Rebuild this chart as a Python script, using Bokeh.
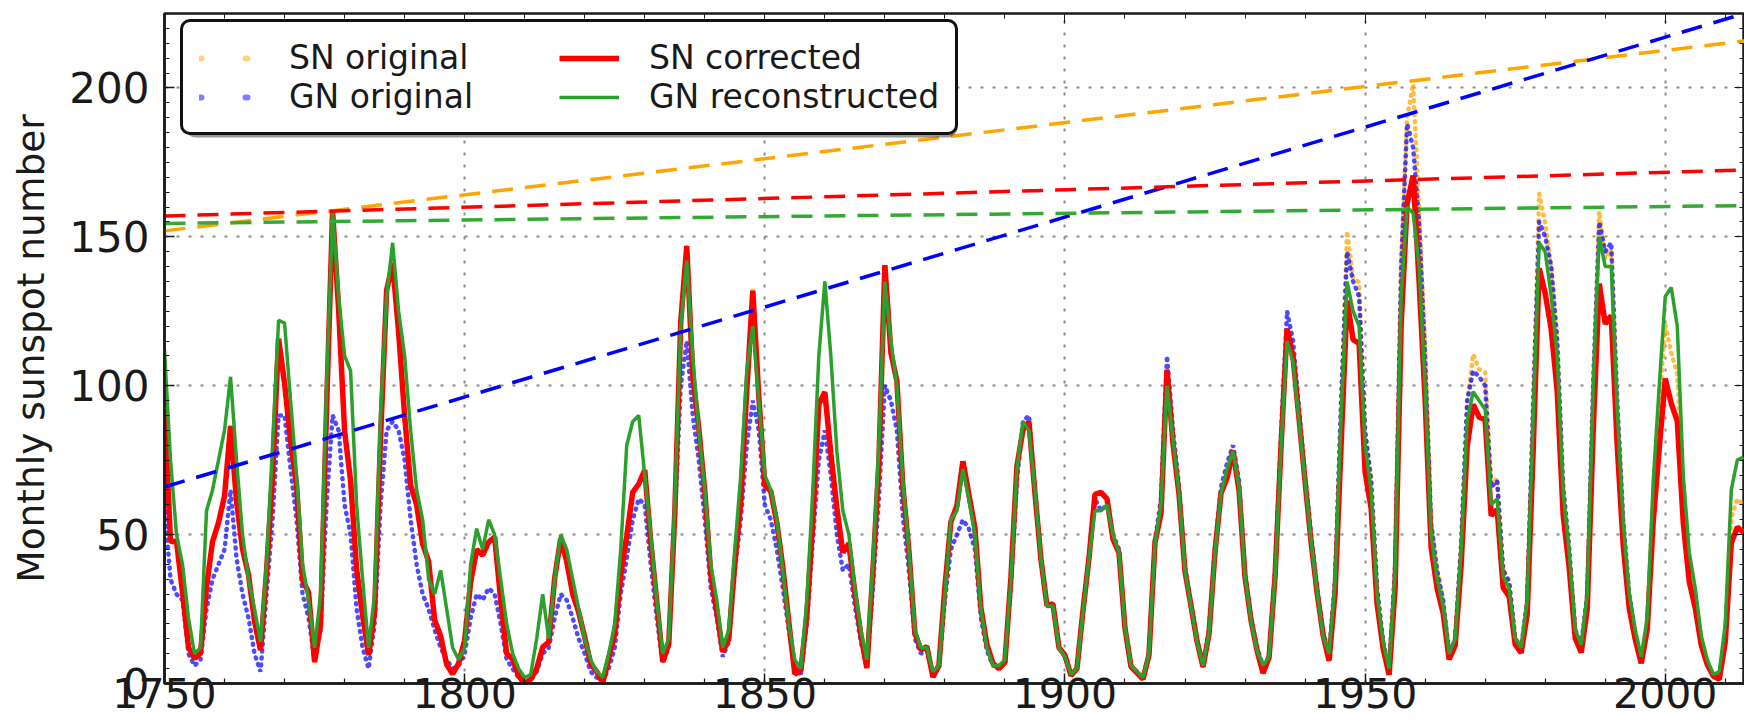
from bokeh.plotting import figure
from bokeh.models import (Range1d, LinearAxis, Legend, LegendItem, SingleIntervalTicker,
                          CustomJSTickFormatter, BoxAnnotation)
from bokeh.embed import file_html
from bokeh.resources import INLINE

# ---------------- data ----------------
years = list(range(1750, 2014))
years_gn_original = list(range(1750, 1996))

sn_original = [
    92, 47.7, 47.8, 30.7, 12.2, 8.4, 10.2, 32.4, 47.6, 54.0,          # 1750
    62.9, 86.5, 61.2, 45.1, 36.4, 20.9, 11.2, 37.8, 69.8, 115.8,      # 1760
    100.8, 81.6, 66.5, 34.8, 30.6, 7.2, 19.8, 92.5, 158.5, 125.9,     # 1770
    84.8, 68.1, 38.5, 22.8, 9.5, 24.1, 82.9, 132.0, 141.2, 118.1,     # 1780
    89.9, 66.6, 60.0, 46.9, 41.0, 21.3, 16.0, 6.4, 3.2, 6.8,          # 1790
    14.5, 34.0, 45.0, 43.1, 47.5, 49.2, 28.1, 10.1, 8.1, 2.5,         # 1800
    0.0, 1.4, 5.0, 12.2, 13.9, 35.4, 48.7, 41.0, 30.1, 23.9,          # 1810
    15.6, 6.6, 4.0, 0.1, 8.5, 16.6, 36.3, 49.6, 64.2, 67.0,           # 1820
    71.7, 47.8, 27.5, 7.3, 13.2, 56.9, 121.5, 146.9, 103.2, 85.7,     # 1830
    64.6, 36.7, 24.2, 10.6, 15.0, 40.1, 61.5, 98.5, 131.9, 96.3,      # 1840
    66.6, 64.5, 54.1, 39.0, 20.6, 3.2, 4.3, 22.7, 54.8, 93.8,         # 1850
    97.9, 77.2, 59.1, 44.0, 47.0, 30.5, 16.3, 5.2, 37.6, 74.0,        # 1860
    140.5, 111.2, 101.6, 66.2, 44.7, 17.0, 11.3, 12.4, 2.2, 6.0,      # 1870
    32.3, 54.3, 59.7, 74.6, 63.5, 52.2, 25.4, 13.1, 6.8, 5.0,         # 1880
    7.1, 35.6, 73.0, 85.1, 87.9, 64.0, 41.8, 26.2, 26.7, 12.1,        # 1890
    9.5, 2.7, 5.0, 24.4, 42.0, 63.5, 64.2, 62.0, 48.5, 43.9,          # 1900
    18.6, 5.7, 3.6, 1.5, 9.6, 47.4, 57.1, 105.4, 80.6, 63.6,          # 1910
    37.6, 26.1, 14.2, 5.6, 16.7, 44.3, 63.9, 69.0, 78.1, 64.9,        # 1920
    35.7, 21.2, 11.1, 3.5, 8.7, 36.1, 79.7, 119.2, 109.6, 88.8,       # 1930
    67.8, 47.5, 30.6, 16.3, 7.7, 33.2, 92.6, 151.8, 136.3, 134.7,     # 1940
    83.9, 69.4, 31.5, 13.9, 3.4, 38.0, 141.7, 190.2, 201.3, 159.0,    # 1950
    112.3, 53.9, 37.6, 27.9, 9.6, 15.1, 47.0, 93.8, 110.6, 105.5,     # 1960
    104.5, 66.6, 68.9, 38.0, 34.5, 15.5, 12.2, 27.5, 92.5, 164.5,     # 1970
    154.6, 140.4, 115.9, 66.6, 45.9, 17.9, 12.3, 29.4, 100.2, 158.5,  # 1980
    142.6, 145.7, 94.3, 54.6, 29.9, 17.5, 8.0, 21.5, 64.3, 93.3,      # 1990
    120.8, 111.0, 104.0, 63.7, 40.4, 29.8, 15.2, 7.5, 2.9, 1.7,       # 2000
    16.5, 55.7, 62.0, 60.0,                                           # 2010
]

gn_original = [
    60, 35, 30, 28, 10, 6, 8, 25, 35, 40,            # 1750
    45, 65, 42, 30, 22, 10, 4, 30, 55, 90,           # 1760
    90, 72, 55, 30, 22, 8, 18, 60, 90, 85,           # 1770
    60, 50, 25, 12, 5, 20, 60, 85, 88, 85,           # 1780
    75, 55, 40, 30, 25, 18, 12, 8, 5, 6,             # 1790
    10, 22, 30, 28, 32, 30, 20, 8, 5, 2,             # 1800
    0, 1, 4, 10, 12, 22, 30, 28, 22, 15,             # 1810
    10, 4, 2, 1, 5, 12, 30, 42, 55, 62,              # 1820
    60, 40, 22, 7, 12, 55, 100, 115, 90, 75,         # 1830
    55, 32, 22, 9, 14, 38, 55, 80, 95, 85,           # 1840
    60, 55, 45, 32, 18, 6, 3, 20, 48, 75,            # 1850
    85, 70, 50, 38, 40, 26, 14, 6, 32, 62,           # 1860
    100, 95, 85, 56, 38, 15, 10, 11, 3, 5,           # 1870
    28, 45, 50, 55, 52, 45, 22, 11, 6, 6,            # 1880
    7, 33, 68, 88, 90, 65, 42, 26, 26, 12,           # 1890
    9, 3, 5, 25, 43, 62, 58, 60, 50, 45,             # 1900
    19, 6, 4, 2, 10, 48, 62, 110, 85, 66,            # 1910
    39, 27, 14, 6, 18, 46, 66, 74, 80, 68,           # 1920
    37, 22, 12, 6, 9, 38, 84, 125, 115, 92,          # 1930
    70, 50, 32, 17, 10, 35, 95, 145, 135, 130,       # 1940
    85, 68, 32, 14, 5, 40, 140, 188, 180, 155,       # 1950
    110, 54, 38, 28, 10, 15, 47, 95, 105, 103,       # 1960
    100, 66, 68, 38, 34, 15, 12, 28, 95, 155,        # 1970
    150, 140, 115, 66, 45, 18, 13, 30, 102, 155,     # 1980
    145, 148, 95, 55, 30, 17,                        # 1990
]

sn_corrected = [
    92, 47.7, 47.8, 30.7, 12.2, 8.4, 10.2, 32.4, 47.6, 54.0,          # 1750
    62.9, 86.5, 61.2, 45.1, 36.4, 20.9, 11.2, 37.8, 69.8, 115.8,      # 1760
    100.8, 81.6, 66.5, 34.8, 30.6, 7.2, 19.8, 92.5, 158.5, 125.9,     # 1770
    84.8, 68.1, 38.5, 22.8, 9.5, 24.1, 82.9, 132.0, 141.2, 118.1,     # 1780
    89.9, 66.6, 60.0, 46.9, 41.0, 21.3, 16.0, 6.4, 3.2, 6.8,          # 1790
    14.5, 34.0, 45.0, 43.1, 47.5, 49.2, 28.1, 10.1, 8.1, 2.5,         # 1800
    0.0, 1.4, 5.0, 12.2, 13.9, 35.4, 48.7, 41.0, 30.1, 23.9,          # 1810
    15.6, 6.6, 4.0, 0.1, 8.5, 16.6, 36.3, 49.6, 64.2, 67.0,           # 1820
    71.7, 47.8, 27.5, 7.3, 13.2, 56.9, 121.5, 146.9, 103.2, 85.7,     # 1830
    64.6, 36.7, 24.2, 10.6, 15.0, 40.1, 61.5, 98.5, 131.9, 96.3,      # 1840
    66.6, 64.5, 54.1, 39.0, 20.6, 3.2, 4.3, 22.7, 54.8, 93.8,         # 1850
    97.9, 77.2, 59.1, 44.0, 47.0, 30.5, 16.3, 5.2, 37.6, 74.0,        # 1860
    140.5, 111.2, 101.6, 66.2, 44.7, 17.0, 11.3, 12.4, 2.2, 6.0,      # 1870
    32.3, 54.3, 59.7, 74.6, 63.5, 52.2, 25.4, 13.1, 6.8, 5.0,         # 1880
    7.1, 35.6, 73.0, 85.1, 87.9, 64.0, 41.8, 26.2, 26.7, 12.1,        # 1890
    9.5, 2.7, 5.0, 24.4, 42.0, 63.5, 64.2, 62.0, 48.5, 43.9,          # 1900
    18.6, 5.7, 3.6, 1.5, 9.6, 47.4, 57.1, 105.4, 80.6, 63.6,          # 1910
    37.6, 26.1, 14.2, 5.6, 16.7, 44.3, 63.9, 69.0, 78.1, 64.9,        # 1920
    35.7, 21.2, 11.1, 3.5, 8.7, 36.1, 79.7, 119.2, 109.6, 88.8,       # 1930
    67.8, 47.5, 30.6, 16.3, 7.7, 30.5, 80.0, 128.6, 115.5, 114.2,     # 1940
    71.1, 58.8, 26.7, 11.8, 2.9, 32.2, 120.1, 161.2, 170.6, 134.7,    # 1950
    95.2, 45.7, 31.9, 23.6, 8.1, 12.8, 39.8, 79.5, 93.7, 89.4,        # 1960
    88.6, 56.4, 58.4, 32.2, 29.2, 13.1, 10.3, 23.3, 78.4, 139.4,      # 1970
    131.0, 119.0, 98.2, 56.4, 38.9, 15.2, 10.4, 24.9, 84.9, 134.3,    # 1980
    120.8, 123.5, 79.9, 46.3, 25.3, 14.8, 6.8, 18.2, 54.5, 79.1,      # 1990
    102.4, 94.1, 88.1, 54.0, 34.2, 25.3, 12.9, 6.4, 2.5, 1.4,         # 2000
    14.0, 47.2, 52.5, 50.8,                                           # 2010
]

gn_reconstructed = [
    112, 75, 50, 40, 22, 10, 12, 58, 65, 75,         # 1750
    85, 103, 75, 50, 35, 25, 14, 40, 80, 122,        # 1760
    121, 95, 70, 40, 28, 12, 30, 100, 158, 130,      # 1770
    110, 105, 60, 35, 12, 30, 90, 130, 148, 125,     # 1780
    110, 85, 65, 55, 35, 30, 38, 25, 12, 8,          # 1790
    12, 40, 52, 45, 55, 50, 35, 20, 10, 5,           # 1800
    2, 3, 15, 30, 15, 35, 50, 45, 35, 25,            # 1810
    15, 8, 4, 2, 10, 20, 45, 80, 88, 90,             # 1820
    70, 50, 28, 10, 15, 60, 120, 142, 110, 85,       # 1830
    65, 40, 28, 12, 18, 45, 70, 105, 120, 95,        # 1840
    70, 65, 55, 38, 20, 8, 5, 28, 65, 110,           # 1850
    135, 110, 78, 58, 50, 32, 18, 8, 40, 80,         # 1860
    135, 115, 100, 68, 45, 18, 12, 12, 4, 6,         # 1870
    30, 55, 58, 72, 62, 50, 25, 12, 6, 6,            # 1880
    8, 35, 72, 88, 85, 65, 42, 26, 26, 12,           # 1890
    9, 3, 5, 24, 42, 58, 58, 60, 50, 44,             # 1900
    19, 6, 4, 2, 10, 47, 60, 100, 82, 64,            # 1910
    38, 26, 14, 6, 17, 44, 64, 72, 78, 66,           # 1920
    36, 21, 11, 6, 9, 36, 80, 115, 108, 88,          # 1930
    68, 48, 31, 16, 10, 34, 90, 135, 125, 120,       # 1940
    80, 65, 30, 14, 5, 38, 130, 160, 158, 140,       # 1950
    100, 50, 35, 26, 10, 15, 45, 88, 98, 95,         # 1960
    92, 60, 62, 36, 32, 15, 12, 28, 90, 148,         # 1970
    145, 130, 110, 64, 44, 18, 13, 30, 100, 150,     # 1980
    140, 140, 92, 54, 30, 18, 9, 22, 68, 100,        # 1990
    130, 133, 120, 70, 44, 32, 16, 8, 3, 4,          # 2000
    20, 65, 75, 76,                                  # 2010
]

# linear trends (end points)
trend_years = [1750, 2014]
sn_original_trend = [152, 216]
gn_original_trend = [66, 225.5]
sn_corrected_trend = [157, 172.5]
gn_reconstructed_trend = [154.5, 160.5]

legend_labels = ["SN original", "GN original", "SN corrected", "GN reconstructed"]

# ---------------- styling ----------------
FONT = "DejaVu Sans"
TXT = "#1a1a1a"
C_ORANGE = "#ffa500"
C_BLUE = "#0000ff"
C_RED = "#ff0000"
C_GREEN = "#2ca02c"

p = figure(width=1744, height=723, output_backend="svg", toolbar_location=None,
           x_range=Range1d(1750, 2013.2), y_range=Range1d(0, 225),
           min_border_left=164, min_border_right=0, min_border_top=13,
           min_border_bottom=40, background_fill_color="white",
           border_fill_color="white")
p.outline_line_color = TXT
p.outline_line_width = 2.5

xt = SingleIntervalTicker(interval=50, num_minor_ticks=5)
yt = SingleIntervalTicker(interval=50, num_minor_ticks=10)
p.xaxis.ticker = xt
p.yaxis.ticker = yt
p.xgrid.ticker = xt
p.ygrid.ticker = yt

for ax in (p.xaxis[0], p.yaxis[0]):
    ax.major_label_text_font = FONT
    ax.major_label_text_color = TXT
    ax.axis_line_color = TXT
    ax.axis_line_width = 2.5
    ax.major_tick_in = 10
    ax.major_tick_out = 0
    ax.minor_tick_in = 5
    ax.minor_tick_out = 0
    ax.major_tick_line_color = TXT
    ax.minor_tick_line_color = TXT
    ax.major_tick_line_width = 1.5
    ax.minor_tick_line_width = 1.2
p.xaxis.major_label_text_font_size = "41px"
p.yaxis.major_label_text_font_size = "42px"
p.xaxis.major_label_standoff = -6
p.yaxis.major_label_standoff = 15
p.yaxis.axis_label = "Monthly sunspot number"
p.yaxis.axis_label_text_font = FONT
p.yaxis.axis_label_text_font_size = "37.5px"
p.yaxis.axis_label_text_font_style = "normal"
p.yaxis.axis_label_text_color = TXT
p.yaxis.axis_label_standoff = 13

blank = CustomJSTickFormatter(code="return '';")
for loc, tk in (("above", xt), ("right", yt)):
    ax = LinearAxis(ticker=tk, formatter=blank)
    ax.major_label_text_font_size = "1px"
    ax.major_label_standoff = 0
    ax.axis_line_color = None
    ax.major_tick_in = 10
    ax.major_tick_out = 0
    ax.minor_tick_in = 5
    ax.minor_tick_out = 0
    ax.major_tick_line_color = TXT
    ax.minor_tick_line_color = TXT
    p.add_layout(ax, loc)

for g in (p.xgrid[0], p.ygrid[0]):
    g.grid_line_color = "#8c8c8c"
    g.grid_line_dash = "3 9"
    g.grid_line_width = 2

# ---------------- glyphs ----------------
p.line(years, sn_original, line_color=C_ORANGE, line_width=4.5,
       line_dash="1 6", line_cap="round", line_alpha=0.75)
p.line(years_gn_original, gn_original, line_color=C_BLUE, line_width=4.5,
       line_dash="1 6", line_cap="round", line_alpha=0.7)
r_sn_c = p.line(years, sn_corrected, line_color=C_RED, line_width=5.5)
r_gn_r = p.line(years, gn_reconstructed, line_color=C_GREEN, line_width=3.5)

p.line(trend_years, sn_original_trend, line_color=C_ORANGE, line_width=3.5, line_dash="21 12")
p.line(trend_years, gn_original_trend, line_color=C_BLUE, line_width=3.5, line_dash="21 12")
p.line(trend_years, sn_corrected_trend, line_color=C_RED, line_width=3.5, line_dash="21 12")
p.line(trend_years, gn_reconstructed_trend, line_color="#33aa33", line_width=3.5, line_dash="21 12")

# legend swatches for the dotted series: two faint dots each, as in the reference
nan = float("nan")
leg_sn_o = p.line([years[0]], [nan], line_color=C_ORANGE, line_width=6, line_dash="2 44",
                  line_cap="round", line_alpha=0.5)
leg_gn_o = p.line([years[0]], [nan], line_color=C_BLUE, line_width=6, line_dash="2 44",
                  line_cap="round", line_alpha=0.5)

# soft drop shadow behind the legend box
shadow = BoxAnnotation(left=185, right=957, top=33, bottom=137,
                       left_units="canvas", right_units="canvas",
                       top_units="canvas", bottom_units="canvas",
                       fill_color="#444444", fill_alpha=0.55, line_color=None)
try:
    shadow.border_radius = 10
except Exception:
    pass
p.add_layout(shadow)

legend = Legend(items=[
    LegendItem(label=legend_labels[0], renderers=[leg_sn_o]),
    LegendItem(label=legend_labels[1], renderers=[leg_gn_o]),
    LegendItem(label=legend_labels[2], renderers=[r_sn_c]),
    LegendItem(label=legend_labels[3], renderers=[r_gn_r]),
], location=(16, 548), ncols=2)
legend.label_text_font = FONT
legend.label_text_font_size = "33px"
legend.label_text_color = TXT
legend.glyph_width = 60
legend.glyph_height = 34
legend.label_standoff = 30
legend.label_width = 270
legend.padding = 16
legend.spacing = -5
legend.margin = 0
legend.border_line_color = "#111111"
legend.border_line_alpha = 1.0
legend.border_line_width = 3
legend.background_fill_color = "white"
legend.background_fill_alpha = 1.0
try:
    legend.border_radius = 10
except Exception:
    pass
p.add_layout(legend)

open("out.html", "w").write(file_html(p, INLINE))
